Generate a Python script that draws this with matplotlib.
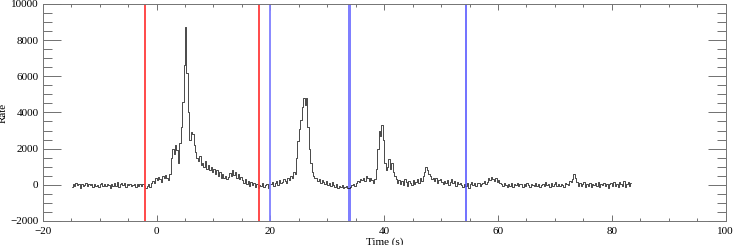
import numpy as np
import matplotlib.pyplot as plt
from matplotlib.ticker import MultipleLocator

plt.rcParams['font.family'] = ['Liberation Serif', 'DejaVu Serif']

# light curve, 0.25 s bins starting at -15 s
bin_size = 0.25
t_start = -15.0

pre_burst = [-120, 40, -60, 80, -30, 20, -150, 60,
             -40, 10, 90, -80, 30, -20, 50, -110,
             70, -50, 0, -130, 40, 110, -70, 20,
             -90, 60, -10, -160, 30, -40, 80, -60,
             150, -100, 20, 120, -30, 90, -140, 50,
             -20, 70, -80, 10, 40, -120, 30, -50,
             60, -90, 20, -60]
rise = [-150, -40, 60, -100, 120, 200, 80, 350,
        250, 420, 300, 180, 480, 350, 520, 400,
        250, 600]
shoulder = [1500, 2000, 1700, 2200, 1900, 1200, 2300]
peak1 = [3200, 4600, 6600, 8700, 6200, 4000, 2500]
decay1 = [2900, 2800, 2200, 1800,
          1500, 1300, 1600, 1100, 1200, 1000, 1300, 900, 1100, 800, 1000, 700,
          900, 600, 800, 500, 700, 400, 600, 350, 500, 300, 450, 650, 500, 800,
          550, 700, 400, 600, 300, 450,
          250, 100, 300, 50, 200, -50, 150, 0, 100, -100, 50, -150, 0, -80,
          80, -120, -30, 60, -150, 20]
quiet1 = [50, 150, -50, 100, 200, 0, 250, 100, 150, 300, 200, 100, 350, 250,
          500, 400]
peak2 = [700, 600, 1500, 2400, 3100, 3600, 4300, 4800, 4400, 4800, 3200, 2000,
         1200, 700, 500, 350]
quiet2 = [400, 200, 300, 100, 250, 150, 50, 200, 0, 100, -50, 150, 0, -100,
          50, -150, -50, -100, 0, -200, -120, -50, -180, -150,
          -100, 0, 50, -50, 100, 200, 150, 300, 250, 400, 200, 500, 350, 200,
          400, 250, 100, 300]
peak3 = [900, 2000, 3000, 2700, 3300, 2500, 1200,
         800, 1000, 1400, 900, 1200, 700, 500]
tail = [300, 100, 250, 50, 200, 0, 300, 150, -50, 200, 100, 0, 250, 50, 150,
        300, 100, 350, 200, 500,
        700, 1000, 800, 600, 500, 300,
        400, 200, 350, 100, 250, 300, 150, 50, 200, 100, 250, 0, 150, 300, 100,
        200, -50, 150, 50, 100, 0, -100, 50, -50, 100, -150]
late = [50, 150, 0, 100, -50, 80, 120, -80, 30, 100, 200, 50, 150, 350, 250,
        450, 300, 200, 350, 150, 250, 100, 50, -80, 100, 0, -100, 50,
        -60, 80, -120, 40, -30, 100, -90, 20, 60, -140, 30, -50, 90, -20,
        -110, 50, 10, -80, 120, -40, 70, -130, 0, 60, -70, 150, -20, 40,
        -100, 80, -50, 20, 130, -60, 30, -90, 70, 10, -120, 100, 50, -30,
        200, 150,
        300, 600, 350, 150,
        -50, 100, -80, 60, 140, -100, 30, -40, 110, -130, 50, 0, 90, -70,
        160, -110, 40, -20, 120, -90, 70, -150, 30, 80, -60, 180, -40, 20,
        -120, 150, 60, -80, 200, -100, 40, 130, -70, 90]

rate = np.array(pre_burst + rise + shoulder + peak1 + decay1 + quiet1 + peak2
                + quiet2 + peak3 + tail + late, dtype=float)
time = t_start + bin_size * (np.arange(len(rate)) + 0.5)

red_lines = [-2.0, 18.0]
blue_lines = [20.0, 54.4]
blue_band = (33.6, 34.2)

fig = plt.figure(figsize=(7.36, 2.45), dpi=100)
ax = fig.add_axes([0.058, 0.098, 0.928, 0.886])

ax.plot(time, rate, color='black', lw=0.5, drawstyle='steps-mid')

for x in red_lines:
    ax.axvline(x, color='#ff3b3b', lw=1.3)
ax.axvline(blue_lines[0], color='#7f7fff', lw=1.3)
ax.axvline(blue_lines[1], color='#4a4aff', lw=1.1)
ax.axvspan(blue_band[0], blue_band[1], color='#7f7fff', lw=0)

ax.set_xlim(-20, 100)
ax.set_ylim(-2000, 10000)
ax.xaxis.set_major_locator(MultipleLocator(20))
ax.xaxis.set_minor_locator(MultipleLocator(5))
ax.yaxis.set_major_locator(MultipleLocator(2000))
ax.yaxis.set_minor_locator(MultipleLocator(500))

ax.tick_params(which='both', direction='in', top=True, right=True,
               labelsize=8, color='0.35', width=0.6)
ax.tick_params(axis='x', which='major', length=4.5, pad=4)
ax.tick_params(axis='x', which='minor', length=2.2)
ax.tick_params(axis='y', which='major', length=13, pad=3)
ax.tick_params(axis='y', which='minor', length=6.5)
for sp in ax.spines.values():
    sp.set_color('0.45')
    sp.set_linewidth(0.7)

ax.set_xlabel('Time (s)', fontsize=8, labelpad=1)
ax.set_ylabel('Rate', fontsize=8)
ax.yaxis.set_label_coords(-0.051, 0.5)

fig.savefig('out.png', dpi=100)
